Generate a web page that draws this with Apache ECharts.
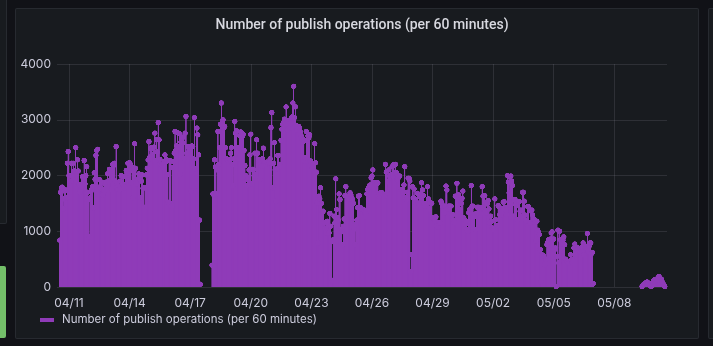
<!DOCTYPE html>
<html>
<head>
<meta charset="utf-8">
<script src="https://cdn.jsdelivr.net/npm/echarts@6/dist/echarts.min.js"></script>
<style>
  html, body { margin: 0; padding: 0; background: #111217; width: 713px; height: 346px; overflow: hidden; }
  .panel { position: absolute; background: #181b1f; border: 1px solid rgba(204,204,220,0.09); border-radius: 2px; box-sizing: border-box; }
  .layer { position: absolute; left: 0; top: 0; width: 713px; height: 346px; }
</style>
</head>
<body>
<div class="panel" style="left:-10px; top:-4px; width:17px; height:228px;"></div>
<div style="position:absolute; left:-4px; top:266px; width:10px; height:72px; background:#73bf69; border-radius:2px;"></div>
<div class="panel" style="left:15px; top:8px; width:684px; height:331px;"></div>
<div class="panel" style="left:708px; top:8px; width:20px; height:331px;"></div>
<div id="frame" class="layer"></div>
<div id="marks" class="layer"></div>
<script>
// Hourly publish counts, three contiguous runs (UTC)
const SERIES_NAME = 'Number of publish operations (per 60 minutes)';
const HOUR = 3600 * 1000;

const run1Start = '2021-04-10T13:00:00Z';
const run1Values = [
  840,1700,1780,1790,1400,1580,1720,1740,1600,2220,
  2430,2000,2000,1900,2220,2010,2220,2080,1950,2500,
  2000,2280,2080,1840,1700,1840,1800,1980,1900,2270,
  1850,2000,2160,1700,1570,900,1600,1710,1750,1800,
  1420,2050,1930,2360,2450,2470,1750,1930,1800,1770,
  1880,1650,1750,1730,1840,1880,1790,2030,1900,2110,
  2060,2110,1750,2200,2180,2220,1900,2520,1840,1800,
  1750,1750,1900,2000,1990,1850,1980,1780,1990,2090,
  2050,2220,2220,2230,2200,1870,2150,1600,2070,2570,
  2130,1850,1930,1940,2030,1940,1600,1900,2010,1770,
  1780,1430,1780,2010,2130,2280,2610,2330,2480,2500,
  2380,2490,2510,2760,2270,2640,2420,2950,2640,2290,
  2200,2190,2200,2140,2250,2370,2250,2280,2020,1520,
  2270,1500,2260,1450,2140,2250,2400,2790,2450,2530,
  2770,2500,2750,2020,2600,2660,2580,2690,2310,2760,
  3060,2400,2520,2520,2520,2480,1720,2530,2520,2300,
  3040,2120,1720,2850,2730,2370,1200,50
];

const run2Start = '2021-04-18T02:00:00Z';
const run2Values = [
  390,1670,1650,2280,2150,1670,2100,2790,2200,2500,
  2920,3300,2950,3000,2860,2880,2500,2300,2290,2280,
  2250,2290,2400,2500,2200,1820,2300,2970,2760,2800,
  2440,2500,2300,2710,2780,2770,2700,2740,2450,2180,
  2000,1820,1930,1960,2100,2370,2740,1850,2110,2110,
  2000,2400,2020,2640,2400,2290,2230,1930,2260,2170,
  2300,2490,2230,2230,2200,2240,2230,2240,2230,2300,
  2860,3130,1780,2220,2590,2100,1540,2120,2360,2360,
  2200,2170,2630,2830,2920,2950,3010,2930,3230,2990,
  2820,2920,2850,2930,3020,3050,3300,3600,3040,3230,
  2900,2820,2860,2880,2850,2780,2710,2650,2610,2640,
  2260,2320,2790,2620,2710,2680,2730,2260,2220,2130,
  2180,2200,2570,2230,2060,1510,790,1630,1580,1780,
  1500,1340,1360,1160,1150,1050,970,1180,1100,970,
  1320,1090,810,120,850,1270,1150,1940,1390,1240,
  1200,1670,1570,1030,990,760,1090,1220,1640,1800,
  1630,1600,1630,1580,1690,1650,1600,1570,1500,1040,
  760,1120,1200,1420,1630,1640,1420,1420,1400,1390,
  1390,1270,1330,1300,1670,1750,1780,1820,1830,1960,
  1990,2100,1840,1870,1870,1840,1850,1870,1630,1660,
  1690,1690,1690,1660,1650,1630,2200,2060,1690,1900,
  2100,1990,1990,2010,2160,1990,2200,2050,2200,2050,
  1930,1950,1990,1990,1750,1750,1750,1690,1830,2160,
  1600,1570,1700,1950,1950,1900,280,580,1800,1600,
  1760,1580,1450,1520,1680,1500,1480,1660,1600,1870,
  1740,1640,1500,1450,1480,1500,1800,1580,1400,1510,
  1510,1500,1240,1220,1200,1190,1260,1100,1080,1140,
  1150,1150,1540,1500,1450,1360,1330,1450,1810,1740,
  1400,1450,1450,1450,1450,1300,1300,1200,1160,1630,
  1620,1860,1650,1650,1560,1390,1500,1590,1720,1240,
  1210,1120,1180,1030,1000,1330,1390,1400,1820,1450,
  1450,1300,1260,1030,1320,1430,1430,1430,1340,1310,
  1420,1800,1630,1630,1640,1510,1330,1490,1550,1400,
  1150,1270,1180,1060,1050,1030,1580,1210,1090,1100,
  1460,1440,1300,1290,1380,1360,1520,1530,1430,1380,
  1300,2000,1880,1690,1980,1990,1900,1820,1270,1560,
  1570,1480,1460,1210,1530,1530,1360,1380,1270,1700,
  1700,1540,1290,1200,1180,1440,1440,1150,1150,1360,
  1380,1290,1210,1210,1160,830,1180,1020,980,940,
  670,100,580,560,560,400,420,500,760,800,
  850,820,860,970,990,840,860,670,700,10,
  550,1020,430,1000,850,700,770,840,900,760,
  500,480,460,460,440,430,580,490,440,470,
  700,770,720,700,670,700,680,640,630,640,
  720,790,580,670,700,730,960,640,730,790,
  790,600,620,60
];

const run3Start = '2021-05-09T09:00:00Z';
const run3Values = [
  10,30,50,60,70,80,90,60,70,50,
  20,10,20,80,120,130,120,140,130,150,
  190,170,120,140,90,60,30,10
];

// Axis range and tick labels
const xRangeStart = '2021-04-10T09:44:00Z';
const xRangeEnd = '2021-05-10T14:37:00Z';
const xTickDates = ['2021-04-11','2021-04-14','2021-04-17','2021-04-20','2021-04-23',
                    '2021-04-26','2021-04-29','2021-05-02','2021-05-05','2021-05-08'];
const yTicks = [0, 1000, 2000, 3000, 4000];

function toPoints(start, values) {
  const t0 = Date.parse(start);
  return values.map((v, i) => [t0 + i * HOUR, v]);
}
const points = []
  .concat(toPoints(run1Start, run1Values))
  .concat(toPoints(run2Start, run2Values))
  .concat(toPoints(run3Start, run3Values));

const tickTimes = xTickDates.map(d => Date.parse(d + 'T00:00:00Z'));
const pad = n => (n < 10 ? '0' : '') + n;
const FONT = 'Inter, Roboto, sans-serif';
const PURPLE = '#8f3bb8';
const TEXT = '#ccccdc';
const GRID = 'rgba(204,204,220,0.12)';
const gridBox = { left: 57, right: 46, top: 64, bottom: 59, containLabel: false };
const xRange = { min: Date.parse(xRangeStart), max: Date.parse(xRangeEnd) };
const yRange = { min: yTicks[0], max: yTicks[yTicks.length - 1], interval: 1000 };

// Back layer: grid lines, axis labels, title and legend
const frame = echarts.init(document.getElementById('frame'), null, { renderer: 'canvas' });
frame.setOption({
  animation: false,
  backgroundColor: 'transparent',
  title: {
    text: SERIES_NAME,
    left: 357, textAlign: 'center', top: 13,
    textStyle: { color: '#d8d9e0', fontSize: 14, fontWeight: 500, fontFamily: 'Roboto, sans-serif' }
  },
  legend: {
    data: [SERIES_NAME],
    left: 40, top: 314, padding: 0,
    icon: 'rect', itemWidth: 14, itemHeight: 4,
    textStyle: { color: TEXT, fontSize: 11.5, fontFamily: FONT, padding: [0, 0, 0, 3] },
    selectedMode: false
  },
  grid: gridBox,
  xAxis: Object.assign({
    type: 'value',
    axisLine: { show: false },
    axisTick: { show: false, customValues: tickTimes },
    splitLine: { show: true, lineStyle: { color: GRID, width: 1 } },
    axisLabel: {
      customValues: tickTimes,
      color: TEXT, fontSize: 12, fontFamily: FONT, margin: 10,
      formatter: v => { const d = new Date(v); return pad(d.getUTCMonth() + 1) + '/' + pad(d.getUTCDate()); }
    }
  }, xRange),
  yAxis: Object.assign({
    type: 'value',
    axisLine: { show: false },
    axisTick: { show: false },
    splitLine: { show: true, lineStyle: { color: GRID, width: 1 } },
    axisLabel: { color: TEXT, fontSize: 12, fontFamily: FONT, margin: 6, formatter: v => String(v) }
  }, yRange),
  series: [{ name: SERIES_NAME, type: 'bar', data: [], itemStyle: { color: PURPLE } }]
});

// Front layer: hourly bars and point markers, supersampled so the dense columns blend into a solid fill
const marks = echarts.init(document.getElementById('marks'), null, { renderer: 'canvas', devicePixelRatio: 3 });
marks.setOption({
  animation: false,
  grid: gridBox,
  xAxis: Object.assign({ type: 'value', show: false, splitLine: { show: false } }, xRange),
  yAxis: Object.assign({ type: 'value', show: false, splitLine: { show: false } }, yRange),
  series: [
    {
      name: SERIES_NAME,
      type: 'bar',
      data: points,
      barWidth: 1.2,
      itemStyle: { color: PURPLE },
      emphasis: { disabled: true }
    },
    {
      name: SERIES_NAME,
      type: 'scatter',
      data: points,
      symbol: 'circle',
      symbolSize: 5.5,
      itemStyle: { color: PURPLE, opacity: 1 },
      emphasis: { disabled: true }
    }
  ]
});
</script>
</body>
</html>
